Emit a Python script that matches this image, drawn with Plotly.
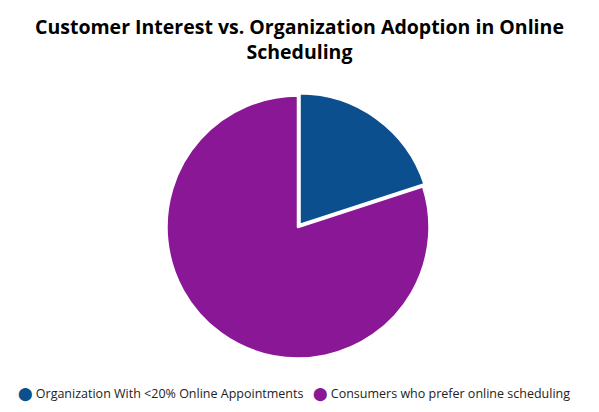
import plotly.graph_objects as go

labels = ["Organization With <20% Online Appointments", "Consumers who prefer online scheduling"]
values = [20, 80]
colors = ["#0c4f8f", "#8a1896"]
title_lines = ["Customer Interest vs. Organization Adoption in Online", "Scheduling"]

pull = 0.02
cx, cy, r = 298, 227, 131.5 * (1 + pull)
W, H = 599, 412

fig = go.Figure()
fig.add_trace(go.Pie(
    labels=labels, values=values, sort=False, direction="clockwise", rotation=0,
    marker=dict(colors=colors, line=dict(color="white", width=2.5)),
    pull=[pull, 0], textinfo="none", hoverinfo="label+percent", showlegend=False,
    domain=dict(x=[(cx - r) / W, (cx + r) / W], y=[1 - (cy + r) / H, 1 - (cy - r) / H]),
))

# title, two centred lines
fig.add_annotation(text="<b>" + "<br>".join(title_lines) + "</b>",
                   x=0.5, y=1 - 38.5 / H, xref="paper", yref="paper",
                   xanchor="center", yanchor="middle", showarrow=False,
                   font=dict(size=19.5, color="black"))

# legend with round markers
legend_x = [16 / W, 311 / W]
for lab, col, lx in zip(labels, colors, legend_x):
    fig.add_annotation(
        text='<span style="color:%s;font-family:DejaVu Sans;font-size:13px">⬤</span> %s'
             % (col, lab.replace("<", "&lt;")),
        x=lx, y=1 - 393 / H, xref="paper", yref="paper",
        xanchor="left", yanchor="middle", showarrow=False,
        font=dict(size=12.5, color="#222"))

fig.update_layout(
    width=W, height=H, margin=dict(l=0, r=0, t=0, b=0),
    paper_bgcolor="white",
    font=dict(family="Open Sans, sans-serif", color="#222"),
)
# drop the page's default body margin so the figure fills the window
fig.write_html("out.html", config={"displayModeBar": False},
               post_script="document.body.style.margin='0';")
